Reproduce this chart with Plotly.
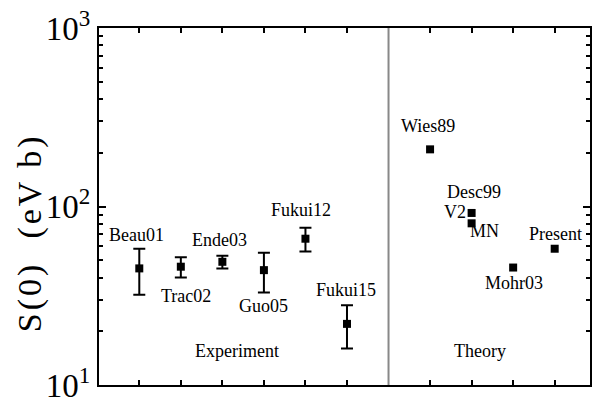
import math
import plotly.graph_objects as go

# ---- data ----
exp_labels = ["Beau01", "Trac02", "Ende03", "Guo05", "Fukui12", "Fukui15"]
exp_x = [1, 2, 3, 4, 5, 6]
exp_s = [45, 46, 49, 44, 66, 22]
exp_hi = [58, 52, 53, 55, 76, 28]
exp_lo = [32, 40, 45, 33, 56, 16]

th_labels = ["Wies89", "V2", "MN", "Mohr03", "Present"]
th_x = [8, 9, 9, 10, 11]
th_s = [209, 92, 80.5, 45.5, 58]

group_labels = ["Experiment", "Theory"]
x_ticks = [1, 2, 3, 4, 5, 6, 8, 9, 10, 11]
y_major = [10, 100, 1000]
y_major_text = ["10<sup>1</sup>", "10<sup>2</sup>", "10<sup>3</sup>"]

# label offsets (pixels) relative to each point: (xshift, yshift)
exp_off = [(-3, 33), (5, -29), (-3, 22), (0, -36), (-4, 29), (-1, 34)]
th_off = [(-2, 23), (-17, 1), (13, -8), (1, -15), (1, 15)]

LABEL_FONT = dict(family="Liberation Serif", size=18, color="black")
X_RANGE = [0.03, 11.85]
Y_RANGE = [1, 3]

fig = go.Figure()
fig.add_trace(go.Scatter(
    x=exp_x, y=exp_s, mode="markers",
    marker=dict(symbol="square", size=8, color="black"),
    error_y=dict(type="data", symmetric=False,
                 array=[h - s for h, s in zip(exp_hi, exp_s)],
                 arrayminus=[s - l for s, l in zip(exp_s, exp_lo)],
                 thickness=2, width=6, color="black"),
    showlegend=False))
fig.add_trace(go.Scatter(
    x=th_x, y=th_s, mode="markers",
    marker=dict(symbol="square", size=8, color="black"),
    showlegend=False))

anns = []
for lab, x, s, (dx, dy) in zip(exp_labels, exp_x, exp_s, exp_off):
    anns.append(dict(x=x, y=math.log10(s), text=lab, showarrow=False, xshift=dx, yshift=dy, font=LABEL_FONT))
for lab, x, s, (dx, dy) in zip(th_labels, th_x, th_s, th_off):
    anns.append(dict(x=x, y=math.log10(s), text=lab, showarrow=False, xshift=dx, yshift=dy, font=LABEL_FONT))
# Desc99 group label above V2
anns.append(dict(x=th_x[1], y=math.log10(th_s[1]), text="Desc99", showarrow=False, xshift=2, yshift=21, font=LABEL_FONT))
anns.append(dict(x=3.35, y=0.063, xref="x", yref="paper", text=group_labels[0], showarrow=False, font=LABEL_FONT))
anns.append(dict(x=9.2, y=0.063, xref="x", yref="paper", text=group_labels[1], showarrow=False, font=LABEL_FONT))
# y-axis title
anns.append(dict(x=-0.14, y=0.426, xref="paper", yref="paper", xanchor="center", yanchor="middle",
                 textangle=-90, showarrow=False,
                 text='<span style="letter-spacing:3px">S(0)  (eV b)</span>',
                 font=dict(family="Liberation Serif", size=34, color="black")))

fig.update_layout(
    width=597, height=409,
    margin=dict(l=99, r=5, t=23, b=20),
    paper_bgcolor="white", plot_bgcolor="white",
    annotations=anns,
    shapes=[dict(type="line", xref="x", yref="paper", x0=7, x1=7, y0=0, y1=1,
                 line=dict(color="#888888", width=2))],
    xaxis=dict(range=X_RANGE, tickmode="array", tickvals=x_ticks, showticklabels=False,
               ticks="inside", ticklen=5, tickwidth=2, tickcolor="black",
               showgrid=False, zeroline=False,
               showline=True, linecolor="black", linewidth=2, mirror="ticks"),
    yaxis=dict(type="log", range=Y_RANGE,
               tickmode="array", tickvals=y_major, ticktext=y_major_text,
               ticklabeloverflow="allow",
               ticks="inside", ticklen=7, tickwidth=2, tickcolor="black",
               showgrid=False, zeroline=False,
               tickfont=dict(family="Liberation Serif", size=33, color="black"),
               minor=dict(tickmode="linear", dtick="D1", ticks="inside",
                          ticklen=4, tickwidth=2, tickcolor="black"),
               showline=True, linecolor="black", linewidth=2, mirror="ticks"),
)

fig.write_html("out.html")
